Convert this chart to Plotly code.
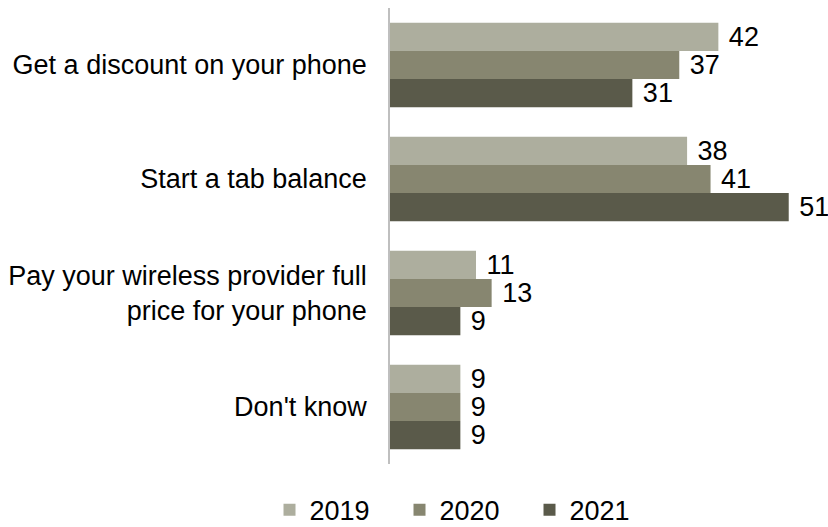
import plotly.graph_objects as go

categories = [
    "Get a discount on your phone",
    "Start a tab balance",
    "Pay your wireless provider full<br>price for your phone",
    "Don't know",
]
years = ["2019", "2020", "2021"]
values_2019 = [42, 38, 11, 9]
values_2020 = [37, 41, 13, 9]
values_2021 = [31, 51, 9, 9]
series = [values_2019, values_2020, values_2021]
colors = ["#ADAE9E", "#878670", "#5A5A4A"]

FONT = "Liberation Sans, Arial, sans-serif"
FS = 27

fig = go.Figure()
for year, vals, col in zip(years, series, colors):
    fig.add_trace(go.Bar(
        y=categories, x=vals, orientation="h", name=year,
        marker=dict(color=col, line=dict(width=0)),
        text=vals, texttemplate="\u00a0%{x}", textposition="outside",
        textfont=dict(size=FS, color="#000000", family=FONT),
        constraintext="none", cliponaxis=False, showlegend=False,
    ))
    # square legend swatch
    fig.add_trace(go.Scatter(
        x=[None], y=[None], mode="markers", name=year,
        marker=dict(symbol="square", size=12, color=col),
        showlegend=True,
    ))

fig.update_layout(
    width=828, height=527,
    margin=dict(l=388, r=8, t=8, b=63),
    paper_bgcolor="white", plot_bgcolor="white",
    barmode="group", bargap=0.26, bargroupgap=0,
    font=dict(family=FONT, size=FS, color="#000000"),
    xaxis=dict(range=[0, 55], visible=False, showgrid=False, zeroline=False),
    yaxis=dict(autorange="reversed", showgrid=False, zeroline=False,
               showline=True, linecolor="#BFBFBF", linewidth=1.5,
               ticks="", ticklabelstandoff=16,
               tickfont=dict(size=FS, family=FONT, color="#000000")),
    legend=dict(orientation="h", xref="container", yref="container",
                x=0.561, xanchor="center", y=0.032, yanchor="middle",
                entrywidth=85, font=dict(size=FS, family=FONT),
                itemwidth=30, tracegroupgap=0),
)

fig.write_html("out.html")
